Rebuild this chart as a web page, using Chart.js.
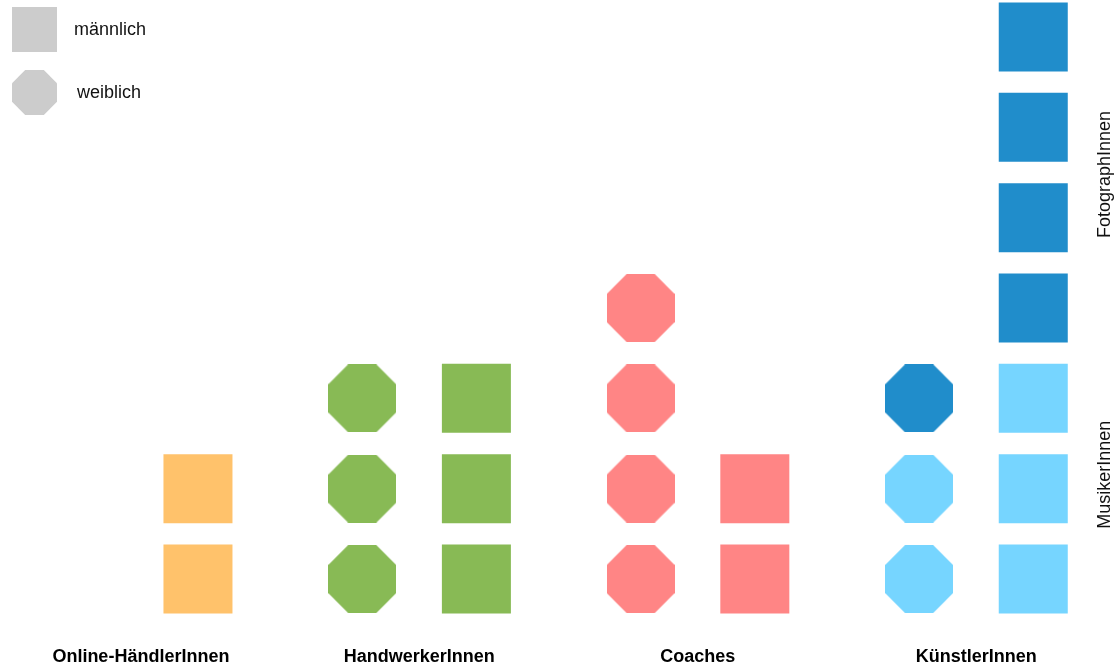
<!DOCTYPE html>
<html>
<head>
<meta charset="utf-8">
<script src="https://cdn.jsdelivr.net/npm/chart.js@4"></script>
<style>
  html, body { margin: 0; padding: 0; background: #fff; }
  #wrap { position: relative; width: 1114px; height: 668px; font-family: "Liberation Sans", Arial, sans-serif; }
  .legend-item { position: absolute; left: 12px; display: flex; align-items: center; font-size: 18px; color: #111; }
  .legend-item .sym { width: 45px; height: 45px; background: #cccccc; margin-right: 17px; }
  .legend-item .oct { clip-path: polygon(29.3% 0, 70.7% 0, 100% 29.3%, 100% 70.7%, 70.7% 100%, 29.3% 100%, 0 70.7%, 0 29.3%); margin-right: 20px; }
</style>
</head>
<body>
<div id="wrap">
  <canvas id="chart" width="1114" height="668"></canvas>
  <div class="legend-item" style="top:7px"><div class="sym"></div>männlich</div>
  <div class="legend-item" style="top:70px"><div class="sym oct"></div>weiblich</div>
</div>
<script>
// Berufsgruppen und Anzahl Personen je Geschlecht
const kategorien = ['Online-HändlerInnen', 'HandwerkerInnen', 'Coaches', 'KünstlerInnen']
const weiblich = [0, 3, 4, 3]
const maennlich = [2, 3, 2, 7]
const farben = ['#ffc26b', '#88ba55', '#ff8585', null]

// KünstlerInnen aufgeteilt in Untergruppen
const untergruppen = ['MusikerInnen', 'FotographInnen']
const kuenstlerWeiblich = [2, 1]
const kuenstlerMaennlich = [3, 4]
const untergruppenFarben = ['#76d5ff', '#208dcb']

const OFFSET = 0.205

function makeOctagon(color, size) {
    const c = document.createElement('canvas')
    c.width = size
    c.height = size
    const ctx = c.getContext('2d')
    const k = size / (2 + Math.SQRT2)
    ctx.fillStyle = color
    ctx.beginPath()
    ctx.moveTo(k, 0)
    ctx.lineTo(size - k, 0)
    ctx.lineTo(size, k)
    ctx.lineTo(size, size - k)
    ctx.lineTo(size - k, size)
    ctx.lineTo(k, size)
    ctx.lineTo(0, size - k)
    ctx.lineTo(0, k)
    ctx.closePath()
    ctx.fill()
    return c
}

// farbe je Reihe (KünstlerInnen haben Untergruppen)
function rowColors(i, count, split) {
    const cols = []
    for (let r = 0; r < count; r++) {
        if (farben[i]) {
            cols.push(farben[i])
        } else {
            cols.push(r < split[0] ? untergruppenFarben[0] : untergruppenFarben[1])
        }
    }
    return cols
}

const datasets = []
kategorien.forEach((name, i) => {
    const wCols = rowColors(i, weiblich[i], kuenstlerWeiblich)
    const mCols = rowColors(i, maennlich[i], kuenstlerMaennlich)
    datasets.push({
        label: name + ' weiblich',
        data: wCols.map((_, r) => ({ x: i - OFFSET, y: r + 1 })),
        pointStyle: wCols.map(c => makeOctagon(c, 68)),
        pointRadius: 34,
        pointBorderWidth: 0
    })
    datasets.push({
        label: name + ' männlich',
        data: mCols.map((_, r) => ({ x: i + OFFSET, y: r + 1 })),
        pointStyle: 'rect',
        pointRadius: 48.8,
        pointBackgroundColor: mCols,
        pointBorderWidth: 0,
        pointBorderColor: 'rgba(0,0,0,0)'
    })
})

// Beschriftung der Untergruppen rechts
const sideLabels = {
    id: 'sideLabels',
    afterDraw(chart) {
        const { ctx, scales: { y } } = chart
        const ranges = [[1, kuenstlerMaennlich[0]], [kuenstlerMaennlich[0] + 1, kuenstlerMaennlich[0] + kuenstlerMaennlich[1]]]
        ctx.save()
        ctx.font = '18px "Liberation Sans", Arial, sans-serif'
        ctx.fillStyle = '#111'
        ctx.textAlign = 'center'
        ctx.textBaseline = 'middle'
        untergruppen.forEach((label, k) => {
            const mid = (ranges[k][0] + ranges[k][1]) / 2
            ctx.save()
            ctx.translate(1105, y.getPixelForValue(mid) + (k === 0 ? -14 : 2))
            ctx.rotate(-Math.PI / 2)
            ctx.fillText(label, 0, 0)
            ctx.restore()
        })
        ctx.restore()
    }
}

Chart.defaults.font.family = '"Liberation Sans", Arial, sans-serif'

new Chart(document.getElementById('chart'), {
    type: 'scatter',
    data: { datasets },
    options: {
        responsive: false,
        animation: false,
        events: [],
        layout: { padding: 0, autoPadding: false },
        plugins: {
            legend: { display: false },
            tooltip: { enabled: false }
        },
        scales: {
            x: {
                type: 'linear',
                min: -0.506,
                max: 3.495,
                grid: { display: false, drawTicks: false },
                border: { display: false },
                afterBuildTicks: axis => {
                    axis.ticks = kategorien.map((_, i) => ({ value: i }))
                },
                ticks: {
                    autoSkip: false,
                    maxRotation: 0,
                    padding: 0,
                    color: '#000',
                    font: { size: 18, weight: 'bold' },
                    callback: v => kategorien[v]
                }
            },
            y: {
                display: false,
                min: 0.254,
                max: 7.41
            }
        }
    },
    plugins: [sideLabels]
})
</script>
</body>
</html>
